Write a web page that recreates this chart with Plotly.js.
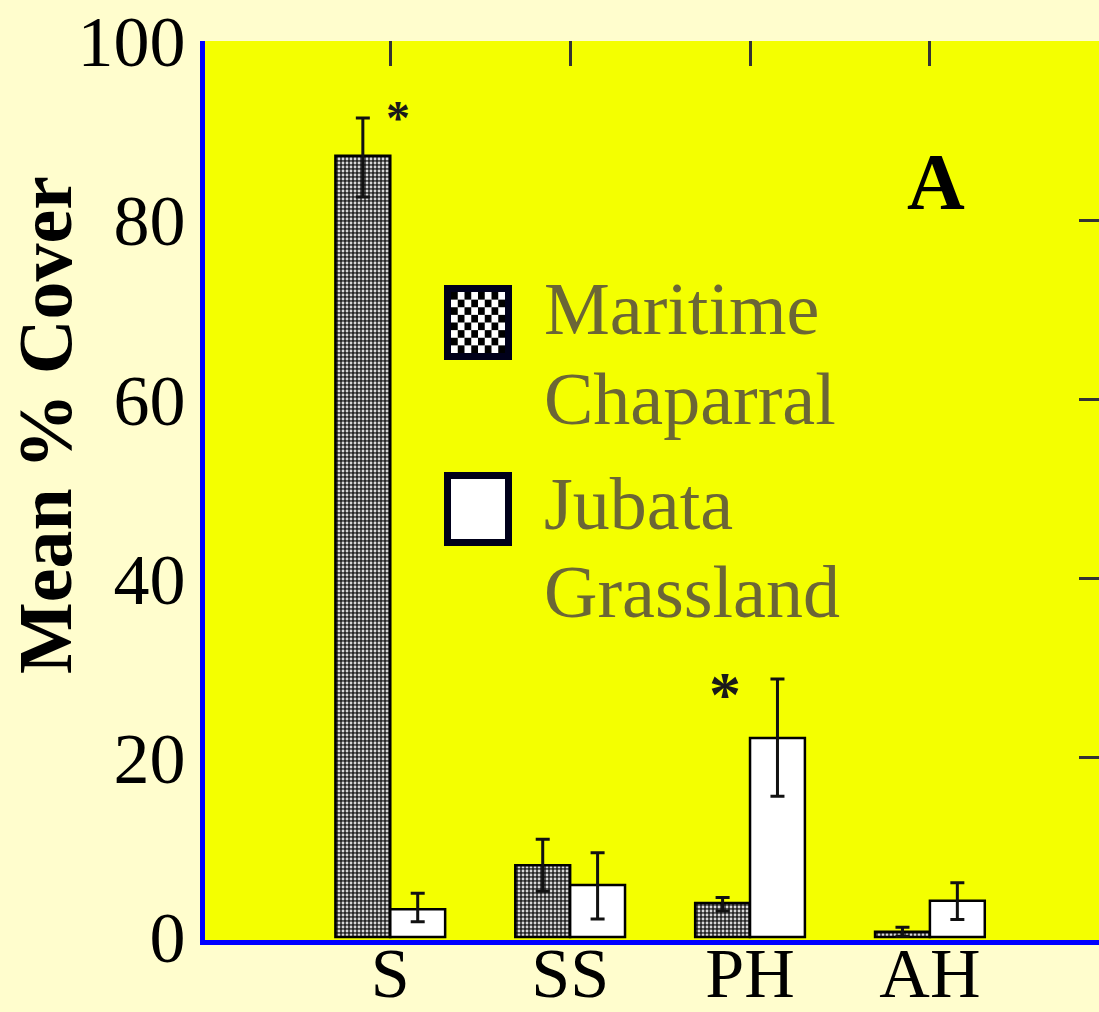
<!DOCTYPE html>
<html>
<head>
<meta charset="utf-8">
<script src="https://cdn.plot.ly/plotly-3.0.1.min.js"></script>
<style>html,body{margin:0;padding:0;background:#FFFDCD;}#chart{width:1099px;height:1012px;}</style>
</head>
<body>
<div id="chart"></div>
<script>
// ---- data ----
const categories = ["S", "SS", "PH", "AH"];
const maritimeName = "Maritime Chaparral";
const jubataName = "Jubata Grassland";
const maritimeValues = [87.2, 8.0, 3.8, 0.6];
const maritimeErrPlus = [4.2, 2.9, 0.6, 0.5];
const maritimeErrMinus = [4.6, 2.9, 0.9, 0.5];
const jubataValues = [3.1, 5.8, 22.2, 4.05];
const jubataErrPlus = [1.8, 3.6, 6.6, 2.0];
const jubataErrMinus = [1.4, 3.8, 6.5, 2.1];
const yTickValues = [0, 20, 40, 60, 80, 100];
const yTickLabels = ["0", "20", "40", "60", "80", "100"];
const significance = [{cat: "S", series: 0, label: "*"}, {cat: "PH", series: 1, label: "*"}];

// ---- layout constants ----
const W = 1099, H = 1012;
const ML = 205, MR = 0, MT = 41, MB = 72;
const serif = "Liberation Serif, Times New Roman, serif";
const legendTextColor = "#6b6636";

function px(xp) { return (xp - ML) / (W - ML - MR); }
function py(yp) { return (H - MB - yp) / (H - MT - MB); }

const errStyle = {type: "data", symmetric: false, color: "#111", thickness: 3, width: 7};

const traces = [
  {
    type: "bar", name: maritimeName, x: categories, y: maritimeValues,
    marker: {color: "#333", line: {color: "#000", width: 2.5},
      pattern: {shape: ".", bgcolor: "#262626", fgcolor: "#d8d8d8", size: 4, solidity: 0.4}},
    error_y: Object.assign({array: maritimeErrPlus, arrayminus: maritimeErrMinus}, errStyle),
    showlegend: false, hoverinfo: "skip"
  },
  {
    type: "bar", name: jubataName, x: categories, y: jubataValues,
    marker: {color: "#ffffff", line: {color: "#000", width: 2.5}},
    error_y: Object.assign({array: jubataErrPlus, arrayminus: jubataErrMinus}, errStyle),
    showlegend: false, hoverinfo: "skip"
  },
  { // carrier for mirrored tick axes
    type: "scatter", x: [0], y: [0], xaxis: "x2", yaxis: "y2",
    mode: "markers", marker: {opacity: 0}, showlegend: false, hoverinfo: "skip"
  }
];

const shapes = [];
// legend box 1: checkerboard
const b1 = {x0: 444, x1: 512, y0: 285, y1: 360};
const inner1 = {x0: 451, x1: 505, y0: 292, y1: 353};
shapes.push({type: "rect", xref: "paper", yref: "paper", x0: px(b1.x0), x1: px(b1.x1), y0: py(b1.y1), y1: py(b1.y0),
  fillcolor: "#ffffff", line: {width: 0}});
const n = 8;
const cw = (inner1.x1 - inner1.x0) / n, ch = (inner1.y1 - inner1.y0) / n;
for (let r = 0; r < n; r++) {
  for (let c = 0; c < n; c++) {
    if ((r + c) % 2 === 0) {
      shapes.push({type: "rect", xref: "paper", yref: "paper",
        x0: px(inner1.x0 + c * cw), x1: px(inner1.x0 + (c + 1) * cw),
        y0: py(inner1.y0 + (r + 1) * ch), y1: py(inner1.y0 + r * ch),
        fillcolor: "#000000", line: {width: 0}});
    }
  }
}
shapes.push({type: "rect", xref: "paper", yref: "paper", x0: px(b1.x0 + 3.5), x1: px(b1.x1 - 3.5), y0: py(b1.y1 - 3.5), y1: py(b1.y0 + 3.5),
  fillcolor: "rgba(0,0,0,0)", line: {width: 7, color: "#00001a"}});
// legend box 2: white
const b2 = {x0: 444, x1: 512, y0: 472, y1: 546};
shapes.push({type: "rect", xref: "paper", yref: "paper", x0: px(b2.x0 + 3.5), x1: px(b2.x1 - 3.5), y0: py(b2.y1 - 3.5), y1: py(b2.y0 + 3.5),
  fillcolor: "#ffffff", line: {width: 7, color: "#00001a"}});

const legendLines = [
  {text: "Maritime", y: 335}, {text: "Chaparral", y: 425},
  {text: "Jubata", y: 530}, {text: "Grassland", y: 618}
];
const annotations = legendLines.map(l => ({
  xref: "paper", yref: "paper", x: px(542), y: py(l.y + 17), xanchor: "left", yanchor: "bottom",
  text: l.text, showarrow: false, font: {family: serif, size: 74, color: legendTextColor}
}));

annotations.push({xref: "paper", yref: "paper", x: px(936), y: py(182), xanchor: "center", yanchor: "middle",
  text: "<b>A</b>", showarrow: false, font: {family: serif, size: 80, color: "#000"}});

annotations.push({xref: "paper", yref: "paper", x: px(45), y: py(425), xanchor: "center", yanchor: "middle",
  text: "<b>Mean % Cover</b>", textangle: -90, showarrow: false, font: {family: serif, size: 76, color: "#000"}});

// significance stars, placed beside the error-bar caps
const starStyle = [
  {dx: 0.045, yshift: -28, size: 48},
  {dx: -0.14, yshift: -53, size: 64}
];
significance.forEach((s, k) => {
  const i = categories.indexOf(s.cat);
  const top = s.series === 0 ? maritimeValues[i] + maritimeErrPlus[i] : jubataValues[i] + jubataErrPlus[i];
  const st = starStyle[k];
  annotations.push({x: i + st.dx, y: top, xref: "x", yref: "y", xanchor: "center", yanchor: "bottom",
    yshift: st.yshift, text: "<b>" + s.label + "</b>", showarrow: false, font: {family: serif, size: st.size, color: "#1a1a1a"}});
});

const xRange = [-1.03, 3.94];
const layout = {
  width: W, height: H,
  margin: {l: ML, r: MR, t: MT, b: MB, pad: 0},
  paper_bgcolor: "#FFFDCD", plot_bgcolor: "#F4FF00",
  barmode: "group", bargap: 0.39, bargroupgap: 0,
  showlegend: false,
  xaxis: {type: "category", range: xRange, showgrid: false, zeroline: false,
    showline: true, linecolor: "#0000ff", linewidth: 5,
    ticks: "", ticklabelstandoff: -32,
    tickfont: {family: serif, size: 70, color: "#000"}},
  yaxis: {range: [-0.33, 100], tickvals: yTickValues, ticktext: yTickLabels,
    showgrid: false, zeroline: false, showline: true, linecolor: "#0000ff", linewidth: 5,
    ticks: "",
    tickfont: {family: serif, size: 72, color: "#000"}},
  xaxis2: {overlaying: "x", side: "top", range: xRange, tickvals: [0, 1, 2, 3],
    showticklabels: false, showgrid: false, zeroline: false, showline: false,
    ticks: "inside", ticklen: 25, tickwidth: 3, tickcolor: "#333"},
  yaxis2: {overlaying: "y", side: "right", range: [-0.33, 100], tickvals: [20, 40, 60, 80],
    showticklabels: false, showgrid: false, zeroline: false, showline: false,
    ticks: "inside", ticklen: 20, tickwidth: 3, tickcolor: "#333"},
  shapes: shapes,
  annotations: annotations
};

Plotly.newPlot("chart", traces, layout, {displayModeBar: false, staticPlot: true});
</script>
</body>
</html>
